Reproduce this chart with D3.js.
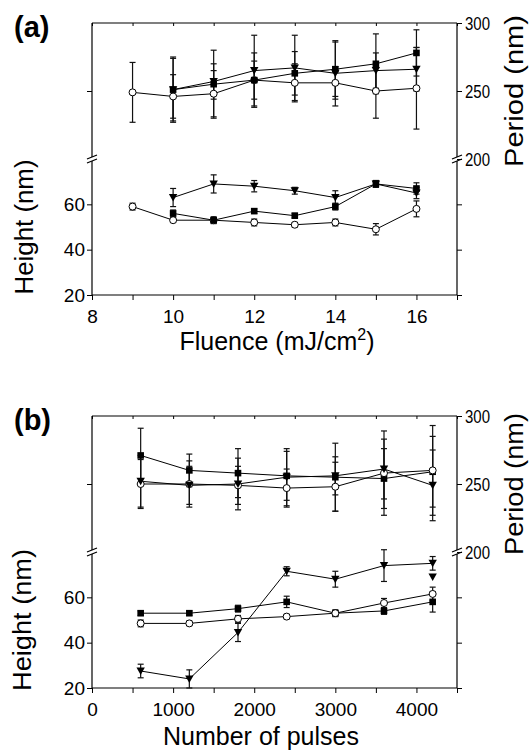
<!DOCTYPE html>
<html>
<head>
<meta charset="utf-8">
<script src="https://cdn.jsdelivr.net/npm/d3@7"></script>
<style>
  body { margin: 0; background: #fff; }
  svg { display: block; font-family: "Liberation Sans", Arial, sans-serif; }
  .tick text { font-family: "Liberation Sans", Arial, sans-serif; font-size: 19px; fill: #000; }
</style>
</head>
<body>
<svg id="chart" width="531" height="752"></svg>
<script>
// ---- panel (a): fluence series ----
var fluence = [9, 10, 11, 12, 13, 14, 15, 16];
var fluenceSq = [10, 11, 12, 13, 14, 15, 16];
var periodA_circ = [249, 246, 248, 258, 256, 256, 250, 252];
var periodA_circErr = [22, 16, 17, 14, 14, 12, 20, 30];
var periodA_sq = [251, 255, 258, 263, 266, 270, 278];
var periodA_sqErr = [23, 25, 20, 16, 20, 22, 17];
var periodA_tri = [251, 257, 265, 267, 263, 265, 266];
var periodA_triErr = [24, 13, 26, 24, 24, 13, 16];
var heightA_circ = [59, 53, 53, 52, 51, 52, 49, 58];
var heightA_circErr = [1.5, 1, 1.5, 1.5, 1, 1.5, 2.5, 3.5];
var heightA_sq = [56, 53, 57, 55, 59, 69, 67];
var heightA_sqErr = [1.5, 1, 1, 1, 1.5, 1.5, 2.5];
var heightA_tri = [63, 69, 68, 66, 63, 69, 65];
var heightA_triErr = [4, 4, 2.5, 1.5, 3, 1.5, 2.5];

// ---- panel (b): pulse series ----
var pulses = [600, 1200, 1800, 2400, 3000, 3600, 4200];
var periodB_sq = [271, 260, 258, 256, 255, 254, 259];
var periodB_sqErr = [20, 12, 18, 18, 25, 22, 26];
var periodB_circ = [250, 250, 249, 247, 248, 258, 260];
var periodB_circErr = [18, 17, 14, 14, 18, 31, 33];
var periodB_tri = [252, 249, 250, 255, 256, 261, 249];
var periodB_triErr = [19, 14, 19, 21, 14, 22, 26];
var heightB_sq = [53, 53, 55, 58, 53, 54, 58];
var heightB_sqErr = [1, 1, 1.5, 2.5, 1.5, 1.5, 4.5];
var heightB_circ = [48.5, 48.5, 50.5, 51.5, 53, 57.5, 61.5];
var heightB_circErr = [1.5, 1, 1.5, 1, 1, 2, 3];
var heightB_tri = [27.5, 24, 44.5, 71.5, 68, 74, 75];
var heightB_triErr = [3, 4, 4, 2, 3.5, 7, 3];
var heightB_extraX = [4200];
var heightB_extra = [69];

var svg = d3.select("#chart");
var left = 92, right = 457;

function zip(xs, ys, es){
	return xs.map(function(x, i){ return {x: x, y: ys[i], e: es ? es[i] : 0}; });
}

function drawPanel(opt){
	var top = opt.top, bot = opt.bot, mid = (top + bot) / 2;
	var g = svg.append("g");
	var x = d3.scaleLinear().domain(opt.xDomain).range([left, right]);
	var yUp = d3.scaleLinear().domain([200, 300]).range([mid, top]);
	var yLo = d3.scaleLinear().domain([20, 80]).range([bot, mid]);

	// axes
	var xb = d3.axisBottom(x).tickValues(opt.xTicks).tickSize(5).tickSizeOuter(0)
		.tickFormat(function(d){ return opt.xLabels.indexOf(d) >= 0 ? d : ""; });
	g.append("g").attr("transform", "translate(0," + bot + ")").call(xb)
		.call(function(a){ a.select(".domain").remove(); a.selectAll("text").attr("dy", "1.05em"); });
	g.append("g").attr("transform", "translate(0," + top + ")")
		.call(d3.axisTop(x).tickValues(opt.xTicks).tickSize(-3).tickFormat(""))
		.call(function(a){ a.select(".domain").remove(); });

	g.append("g").attr("transform", "translate(" + left + ",0)")
		.call(d3.axisLeft(yLo).tickValues([20, 40, 60]).tickSize(5))
		.call(function(a){ a.select(".domain").remove(); a.selectAll("text").attr("x", -7); });
	g.append("g").attr("transform", "translate(" + left + ",0)")
		.call(d3.axisLeft(yUp).tickValues([250]).tickSize(5).tickFormat(""))
		.call(function(a){ a.select(".domain").remove(); });
	g.append("g").attr("transform", "translate(" + right + ",0)")
		.call(d3.axisRight(yUp).tickValues([200, 250, 300]).tickSize(5))
		.call(function(a){
			a.select(".domain").remove();
			a.selectAll("text").attr("x", 8).attr("textLength", 25).attr("lengthAdjust", "spacingAndGlyphs");
		});
	g.append("g").attr("transform", "translate(" + right + ",0)")
		.call(d3.axisRight(yLo).tickValues([20, 40, 60]).tickSize(5).tickFormat(""))
		.call(function(a){ a.select(".domain").remove(); });

	// frame with broken verticals
	var frame = g.append("g").attr("stroke", "#000").attr("stroke-width", 1.2).attr("fill", "none");
	frame.append("line").attr("x1", left).attr("x2", right).attr("y1", top).attr("y2", top);
	frame.append("line").attr("x1", left).attr("x2", right).attr("y1", bot).attr("y2", bot);
	[left, right].forEach(function(ax){
		frame.append("line").attr("x1", ax).attr("x2", ax).attr("y1", top).attr("y2", mid - 2);
		frame.append("line").attr("x1", ax).attr("x2", ax).attr("y1", mid + 2).attr("y2", bot);
		frame.append("line").attr("x1", ax - 5).attr("x2", ax + 5).attr("y1", mid).attr("y2", mid - 4);
		frame.append("line").attr("x1", ax - 5).attr("x2", ax + 5).attr("y1", mid + 4).attr("y2", mid);
	});

	// series
	var plot = g.append("g");
	opt.series.forEach(function(s){
		var yS = s.upper ? yUp : yLo;
		var pts = zip(s.xs, s.ys, s.es);
		if(s.line !== false)
			plot.append("path").datum(pts)
				.attr("fill", "none").attr("stroke", "#000").attr("stroke-width", 1)
				.attr("d", d3.line().x(d => x(d.x)).y(d => yS(d.y)));
		var eb = plot.append("g").attr("stroke", "#111").attr("stroke-width", 1.2);
		pts.forEach(function(d){
			if(!d.e) return;
			var cx = x(d.x), y1 = yS(d.y + d.e), y2 = yS(d.y - d.e);
			eb.append("line").attr("x1", cx).attr("x2", cx).attr("y1", y1).attr("y2", y2);
			eb.append("line").attr("x1", cx - 3).attr("x2", cx + 3).attr("y1", y1).attr("y2", y1);
			eb.append("line").attr("x1", cx - 3).attr("x2", cx + 3).attr("y1", y2).attr("y2", y2);
		});
		s.marks = pts.map(function(d){ return {cx: x(d.x), cy: yS(d.y)}; });
	});
	opt.series.forEach(function(s){
		var m = plot.append("g");
		s.marks.forEach(function(p){
			if(s.shape === "sq")
				m.append("rect").attr("x", p.cx - 3.3).attr("y", p.cy - 3.3).attr("width", 6.6).attr("height", 6.6).attr("fill", "#000");
			else if(s.shape === "tri")
				m.append("path").attr("d", "M" + (p.cx - 4.2) + "," + (p.cy - 3.5) + "L" + (p.cx + 4.2) + "," + (p.cy - 3.5) + "L" + p.cx + "," + (p.cy + 4) + "Z").attr("fill", "#000");
			else
				m.append("circle").attr("cx", p.cx).attr("cy", p.cy).attr("r", 3.5).attr("fill", "#fff").attr("stroke", "#000").attr("stroke-width", 1);
		});
	});

	// titles
	g.append("text").attr("x", 14).attr("y", opt.top + opt.tagDy).attr("font-size", 29).attr("font-weight", "bold").text(opt.tag);
	g.append("text").attr("transform", "translate(" + opt.hX + "," + (mid + bot) / 2 + ") rotate(-90)")
		.attr("text-anchor", "middle").attr("font-size", 25).attr("textLength", opt.hLen).attr("lengthAdjust", "spacingAndGlyphs").text("Height (nm)");
	g.append("text").attr("transform", "translate(523," + (top + mid) / 2 + ") rotate(-90)")
		.attr("text-anchor", "middle").attr("font-size", 26).attr("textLength", opt.pLen).attr("lengthAdjust", "spacingAndGlyphs").text("Period (nm)");
	var xt = g.append("text").attr("x", opt.xtX).attr("y", bot + opt.xtDy).attr("text-anchor", "middle").attr("font-size", 25);
	xt.append("tspan").text(opt.xTitle);
	if(opt.xSup){
		xt.append("tspan").attr("dy", -10).attr("font-size", 16).text(opt.xSup);
		xt.append("tspan").attr("dy", 10).text(")");
	}
}

drawPanel({
	top: 23, bot: 295, xDomain: [8, 17],
	xTicks: d3.range(8, 17.5, 1), xLabels: [8, 10, 12, 14, 16],
	tag: "(a)", tagDy: 14, hX: 33, hLen: 135, pLen: 152,
	xTitle: "Fluence (mJ/cm", xSup: "2", xtX: 277, xtDy: 55,
	series: [
		{upper: true, shape: "circ", xs: fluence, ys: periodA_circ, es: periodA_circErr},
		{upper: true, shape: "sq", xs: fluenceSq, ys: periodA_sq, es: periodA_sqErr},
		{upper: true, shape: "tri", xs: fluenceSq, ys: periodA_tri, es: periodA_triErr},
		{upper: false, shape: "circ", xs: fluence, ys: heightA_circ, es: heightA_circErr},
		{upper: false, shape: "sq", xs: fluenceSq, ys: heightA_sq, es: heightA_sqErr},
		{upper: false, shape: "tri", xs: fluenceSq, ys: heightA_tri, es: heightA_triErr}
	]
});

drawPanel({
	top: 416, bot: 688, xDomain: [0, 4500],
	xTicks: d3.range(0, 4501, 500), xLabels: [0, 1000, 2000, 3000, 4000],
	tag: "(b)", tagDy: 14, hX: 31, hLen: 142, pLen: 142,
	xTitle: "Number of pulses", xtX: 261, xtDy: 57,
	series: [
		{upper: true, shape: "sq", xs: pulses, ys: periodB_sq, es: periodB_sqErr},
		{upper: true, shape: "circ", xs: pulses, ys: periodB_circ, es: periodB_circErr},
		{upper: true, shape: "tri", xs: pulses, ys: periodB_tri, es: periodB_triErr},
		{upper: false, shape: "sq", xs: pulses, ys: heightB_sq, es: heightB_sqErr},
		{upper: false, shape: "circ", xs: pulses, ys: heightB_circ, es: heightB_circErr},
		{upper: false, shape: "tri", xs: pulses, ys: heightB_tri, es: heightB_triErr},
		{upper: false, shape: "tri", line: false, xs: heightB_extraX, ys: heightB_extra}
	]
});
</script>
</body>
</html>
